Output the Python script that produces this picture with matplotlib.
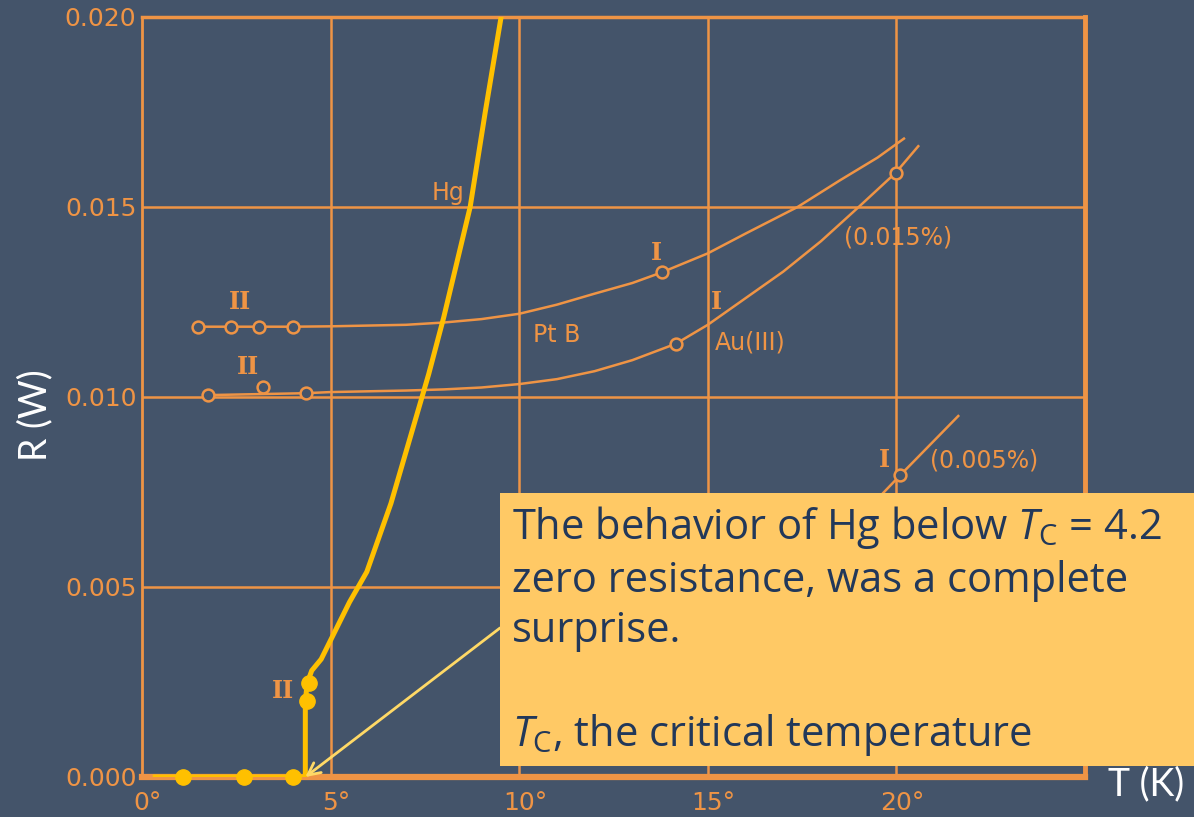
import matplotlib
matplotlib.use("Agg")
import matplotlib.pyplot as plt
import matplotlib.transforms as mtransforms
from matplotlib.patches import Rectangle

# === DATA ===
hg_T = [0.35, 1.1, 2.7, 4.0, 4.33, 4.33, 4.38, 4.5, 4.75, 5.1, 5.5, 5.96, 6.6, 7.1, 7.6, 8.0, 8.7, 9.1, 9.52]
hg_R = [0.0, 0.0, 0.0, 0.0, 0.0, 0.0020, 0.00247, 0.0028, 0.0031, 0.0038, 0.0046, 0.0054, 0.0072, 0.0089, 0.0106, 0.0121, 0.0150, 0.0175, 0.0200]
hg_dot_T = [1.1, 2.7, 4.0, 4.38, 4.43]
hg_dot_R = [0.0, 0.0, 0.0, 0.0020, 0.00247]

ptb_T = [1.48, 2.35, 3.1, 4.0, 5, 6, 7, 8, 9, 10, 11, 12, 13, 13.78, 15, 16, 17.38, 18.5, 19.5, 20.2]
ptb_R = [0.01185, 0.01185, 0.01185, 0.01185, 0.01186, 0.01188, 0.0119, 0.01196, 0.01205, 0.01219,
         0.01243, 0.01272, 0.01300, 0.01328, 0.01378, 0.01430, 0.0150, 0.0157, 0.0163, 0.0168]
ptb_circ_T = [1.48, 2.35, 3.1, 4.0, 13.78]
ptb_circ_R = [0.01185, 0.01185, 0.01185, 0.01185, 0.01328]

au_T = [1.75, 4.34, 5, 6, 7, 8, 9, 10, 11, 12, 13, 14.15, 15, 16, 17, 18, 19, 19.98, 20.58]
au_R = [0.01005, 0.0101, 0.01013, 0.01015, 0.01017, 0.0102, 0.01025, 0.01034, 0.01047, 0.01068,
        0.01097, 0.0114, 0.0119, 0.0126, 0.0133, 0.0141, 0.0150, 0.0159, 0.0166]
au_circ_T = [1.75, 3.2, 4.34, 14.15, 19.98]
au_circ_R = [0.01005, 0.01026, 0.0101, 0.0114, 0.0159]

au5_T = [18.9, 20.1, 21.64]
au5_R = [0.0067, 0.00794, 0.0095]

x_ticks = [0, 5, 10, 15, 20]
x_labels = ["0°", "5°", "10°", "15°", "20°"]
y_ticks = [0.0, 0.005, 0.010, 0.015, 0.020]
y_labels = ["0.000", "0.005", "0.010", "0.015", "0.020"]

# === STYLE ===
BG = "#44546A"
ORANGE = "#EF9445"
YELLOW = "#FFC000"
BOX = "#FFC965"
NAVY = "#22385A"

plt.rcParams["mathtext.fontset"] = "custom"
plt.rcParams["mathtext.rm"] = "Open Sans"
plt.rcParams["mathtext.it"] = "Open Sans:italic"

fig = plt.figure(figsize=(11.94, 8.17), dpi=100, facecolor=BG)
ax = fig.add_axes([142 / 1194, 40 / 817, 943 / 1194, 760 / 817], facecolor=BG)
ax.set_xlim(0, 25)
ax.set_ylim(0, 0.020)

ax.set_xticks(x_ticks)
ax.set_xticklabels(x_labels)
ax.set_yticks(y_ticks)
ax.set_yticklabels(y_labels)
ax.tick_params(length=0, colors=ORANGE, labelsize=18)
ax.tick_params(axis="x", pad=10)
ax.tick_params(axis="y", pad=4)
shift = mtransforms.ScaledTranslation(6 / 100, 0, fig.dpi_scale_trans)
for t in ax.get_xticklabels():
    t.set_transform(t.get_transform() + shift)

# grid
for x in x_ticks[1:]:
    ax.axvline(x, color=ORANGE, lw=1.8, zorder=1)
for y in y_ticks[1:-1]:
    ax.axhline(y, color=ORANGE, lw=1.8, zorder=1)

for side, lw in [("left", 2.0), ("top", 2.5), ("right", 3.5), ("bottom", 4.5)]:
    ax.spines[side].set_color(ORANGE)
    ax.spines[side].set_linewidth(lw)

# curves
ax.plot(ptb_T, ptb_R, color=ORANGE, lw=1.8, zorder=2)
ax.plot(ptb_circ_T, ptb_circ_R, "o", ms=8.5, mfc=BG, mec=ORANGE, mew=1.8, zorder=3)
ax.plot(au_T, au_R, color=ORANGE, lw=1.8, zorder=2)
ax.plot(au_circ_T, au_circ_R, "o", ms=8.5, mfc=BG, mec=ORANGE, mew=1.8, zorder=3)
ax.plot(au5_T, au5_R, color=ORANGE, lw=1.8, zorder=2)
ax.plot([au5_T[1]], [au5_R[1]], "o", ms=8.5, mfc=BG, mec=ORANGE, mew=1.8, zorder=3)

ax.plot(hg_T, hg_R, color=YELLOW, lw=3.6, zorder=4, solid_joinstyle="round")
ax.plot(hg_dot_T, hg_dot_R, "o", ms=11, color=YELLOW, zorder=5, clip_on=False)

# labels on the chart
lab = dict(color=ORANGE, fontsize=17, ha="center", va="center")
ser = dict(color=ORANGE, fontsize=17, ha="center", va="center", family="DejaVu Serif", weight="bold")
ax.text(8.11, 0.01536, "Hg", **lab)
ax.text(11.0, 0.01164, "Pt B", **lab)
ax.text(15.18, 0.01143, "Au(III)", color=ORANGE, fontsize=17, ha="left", va="center")
ax.text(18.62, 0.01419, "(0.015%)", color=ORANGE, fontsize=17, ha="left", va="center")
ax.text(20.9, 0.00833, "(0.005%)", color=ORANGE, fontsize=17, ha="left", va="center")
ax.text(2.6, 0.0125, "II", **ser)
ax.text(2.81, 0.01078, "II", **ser)
ax.text(3.74, 0.00227, "II", **ser)
ax.text(13.64, 0.0138, "I", **ser)
ax.text(15.23, 0.0125, "I", **ser)
ax.text(19.68, 0.00833, "I", **ser)

# axis titles
fig.text(1108 / 1194, 1 - 784 / 817, "T (K)", color="white", fontsize=27,
         family="Lato", ha="left", va="center")
fig.text(35 / 1194, 1 - 415 / 817, "R (W)", color="white", fontsize=27,
         family="Lato", ha="center", va="center", rotation=90)

# callout box
box_l, box_b = 500 / 1194, 1 - 766 / 817
box_t = 1 - 493 / 817
fig.patches.append(Rectangle((box_l, box_b), 1 - box_l, box_t - box_b,
                             transform=fig.transFigure, facecolor=BOX,
                             edgecolor="none", zorder=10))
txt = ("The behavior of Hg below $T_\\mathrm{C}$ = 4.2\n"
       "zero resistance, was a complete\n"
       "surprise.\n\n"
       "$T_\\mathrm{C}$, the critical temperature")
fig.text(512 / 1194, 1 - 504 / 817, txt, color=NAVY, fontsize=30, family="Open Sans",
         ha="left", va="top", linespacing=1.27, zorder=11)

ax.annotate("", xy=(4.33, 0.0), xycoords="data",
            xytext=(box_l, 1 - 628 / 817), textcoords="figure fraction",
            arrowprops=dict(arrowstyle="->", color="#FFD966", lw=2, mutation_scale=22,
                            shrinkA=0, shrinkB=0),
            zorder=9, annotation_clip=False)

fig.savefig("out.png", dpi=100, facecolor=BG)
